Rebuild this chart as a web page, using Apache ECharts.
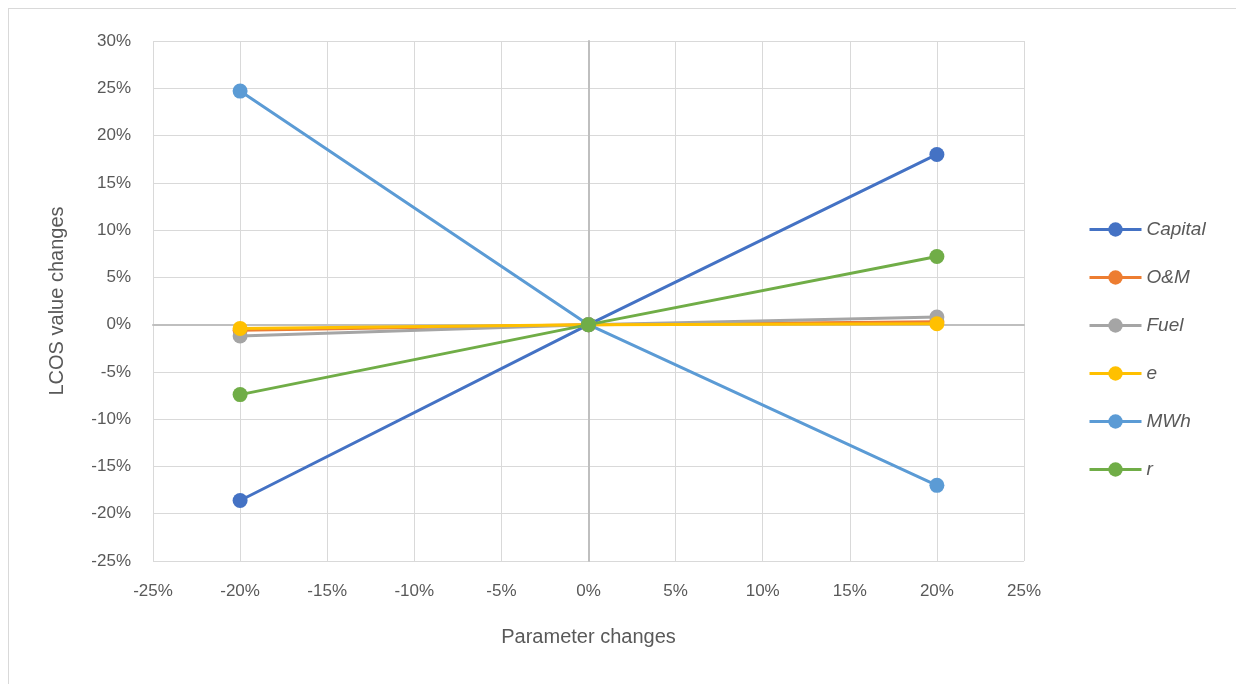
<!DOCTYPE html>
<html><head><meta charset="utf-8">
<script src="https://cdn.jsdelivr.net/npm/echarts@6/dist/echarts.min.js"></script>
<style>
html,body{margin:0;padding:0;background:#fff;overflow:hidden;}
#frame{position:absolute;left:8px;top:8px;width:1240px;height:690px;border:1px solid #d9d9d9;box-sizing:border-box;}
#c{position:absolute;left:0;top:0;width:1236px;height:684px;}
</style></head>
<body>
<div id="frame"></div>
<div id="c"></div>
<script>
const xValues = [-20, 0, 20];
const seriesNames = ['Capital', 'O&M', 'Fuel', 'e', 'MWh', 'r'];
const capital = [-18.6, 0, 18.0];
const om = [-0.6, 0, 0.3];
const fuel = [-1.2, 0, 0.8];
const eVals = [-0.4, 0, 0.1];
const mwh = [24.7, 0, -17.0];
const rVals = [-7.4, 0, 7.2];
const colors = ['#4472C4', '#ED7D31', '#A5A5A5', '#FFC000', '#5B9BD5', '#70AD47'];
const allValues = [capital, om, fuel, eVals, mwh, rVals];

const chart = echarts.init(document.getElementById('c'));
const font = "'Liberation Sans', 'Open Sans', sans-serif";
chart.setOption({
  animation: false,
  textStyle: {fontFamily: font},
  grid: {left: 153, right: 212, top: 41, bottom: 123},
  legend: {
    orient: 'vertical', left: 1083, top: 215,
    itemWidth: 52, itemHeight: 18, itemGap: 29,
    lineStyle: {width: 3},
    textStyle: {fontStyle: 'italic', fontSize: 19, color: '#595959', fontFamily: font},
    data: seriesNames
  },
  xAxis: {
    type: 'value', min: -25, max: 25, interval: 5,
    name: 'Parameter changes', nameLocation: 'middle', nameGap: 66,
    nameTextStyle: {fontSize: 20, color: '#595959'},
    axisLabel: {formatter: '{value}%', fontSize: 17, color: '#595959', margin: 22},
    axisTick: {show: false},
    axisLine: {show: true, onZero: true, lineStyle: {color: '#bfbfbf', width: 2}},
    splitLine: {show: true, lineStyle: {color: '#d9d9d9', width: 1}}
  },
  yAxis: {
    type: 'value', min: -25, max: 30, interval: 5,
    name: 'LCOS value changes', nameLocation: 'middle', nameGap: 86,
    nameTextStyle: {fontSize: 20, color: '#595959'},
    axisLabel: {formatter: '{value}%', fontSize: 17, color: '#595959', margin: 22},
    axisTick: {show: false},
    axisLine: {show: true, onZero: true, lineStyle: {color: '#bfbfbf', width: 2}},
    splitLine: {show: true, lineStyle: {color: '#d9d9d9', width: 1}}
  },
  series: seriesNames.map((n, i) => ({
    name: n, type: 'line',
    data: xValues.map((x, j) => [x, allValues[i][j]]),
    symbol: 'circle', symbolSize: 15,
    lineStyle: {width: 3, color: colors[i]},
    itemStyle: {color: colors[i]},
    z: 2 + i
  }))
});
</script>
</body></html>
